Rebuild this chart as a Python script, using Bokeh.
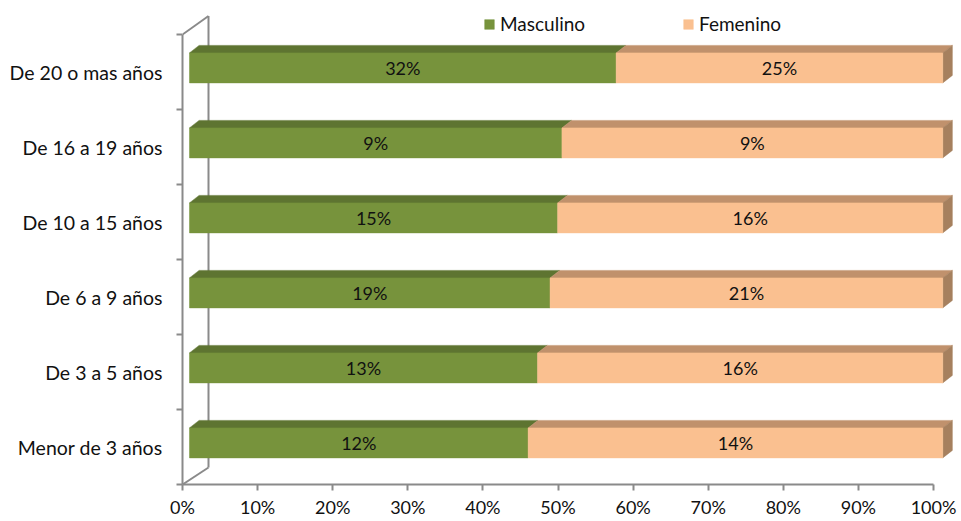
from bokeh.plotting import figure
from bokeh.models import Range1d, FixedTicker, Legend, LegendItem, ColumnDataSource
from bokeh.core.properties import value
from bokeh.embed import file_html
from bokeh.resources import INLINE

# ---------------- data ----------------
categories = ["Menor de 3 años", "De 3 a 5 años", "De 6 a 9 años",
              "De 10 a 15 años", "De 16 a 19 años", "De 20 o mas años"]
masculino = [11.6, 13.4, 19.1, 15.2, 8.9, 32.4]
femenino = [14.2, 15.6, 20.8, 15.9, 9.1, 24.8]
series_names = ["Masculino", "Femenino"]
x_ticks = [0, 10, 20, 30, 40, 50, 60, 70, 80, 90, 100]
x_tick_labels = ["0%", "10%", "20%", "30%", "40%", "50%", "60%", "70%", "80%", "90%", "100%"]

# ---------------- style ----------------
FONT = "Lato"
GREEN_FRONT, GREEN_TOP = "#77933C", "#5E7431"
TAN_FRONT, TAN_TOP, TAN_SIDE = "#FAC090", "#C0916C", "#A6805E"
AX = "#8a8a8a"
TXT = "#111111"

PX_X = 100 / 751.0      # x units per pixel
PX_Y = 1 / 75.0         # y units per pixel
DX0 = 7.0 * PX_X        # front face shift (3D depth)
KX = 1.003              # front face scale
DY0 = 0.055
BH = 30 * PX_Y          # bar thickness
TDX, TDY = 9.6 * PX_X, 7.5 * PX_Y
WDX, WDY = 26 * PX_X, 18.5 * PX_Y  # wall depth

n = len(categories)
pos = list(range(n))

p = figure(width=961, height=521,
           x_range=Range1d(0, 779 * PX_X), y_range=Range1d(-0.5, 5.5 + 34 * PX_Y),
           output_backend="svg", toolbar_location=None,
           min_border_left=182, min_border_right=0, min_border_top=0, min_border_bottom=37)
p.outline_line_color = None
p.xgrid.visible = False
p.ygrid.visible = False
p.background_fill_color = "white"
p.border_fill_color = "white"

# ---- walls ----
p.line([WDX, WDX], [-0.5 + 17 * PX_Y, 5.5 + WDY], line_color=AX, line_width=2)
p.line([0, WDX], [5.5, 5.5 + WDY], line_color=AX, line_width=2)
p.line([0, WDX], [-0.5, -0.5 + 17 * PX_Y], line_color=AX, line_width=2)

# ---- bars ----
m_left, m_right, f_left, f_right, ys = [], [], [], [], []
for i in pos:
    tot = masculino[i] + femenino[i]
    fm = masculino[i] / tot * 100
    m_left.append(DX0)
    m_right.append(DX0 + fm * KX)
    f_left.append(DX0 + fm * KX)
    f_right.append(DX0 + 100 * KX)
    ys.append(i + DY0)

src = ColumnDataSource(dict(y=ys, ml=m_left, mr=m_right, fl=f_left, fr=f_right,
                            mlab=[f"{round(v)}%" for v in masculino],
                            flab=[f"{round(v)}%" for v in femenino],
                            mx=[(a + b) / 2 for a, b in zip(m_left, m_right)],
                            fx=[(a + b) / 2 for a, b in zip(f_left, f_right)]))


def top_faces(lefts, rights):
    xs, yy = [], []
    for l, r, y in zip(lefts, rights, ys):
        t = y + BH / 2
        xs.append([l, l + TDX, r + TDX, r])
        yy.append([t, t + TDY, t + TDY, t])
    return xs, yy


xs, yy = top_faces(m_left, m_right)
p.patches(xs, yy, fill_color=GREEN_TOP, line_color=GREEN_TOP, line_width=0.5)
xs, yy = top_faces(f_left, f_right)
p.patches(xs, yy, fill_color=TAN_TOP, line_color=TAN_TOP, line_width=0.5)
sx, sy = [], []
for r, y in zip(f_right, ys):
    t, b = y + BH / 2, y - BH / 2
    sx.append([r, r + TDX, r + TDX, r])
    sy.append([t, t + TDY, b + TDY, b])
p.patches(sx, sy, fill_color=TAN_SIDE, line_color=TAN_SIDE, line_width=0.5)

rm = p.hbar(y="y", left="ml", right="mr", height=BH, source=src,
            fill_color=GREEN_FRONT, line_color=GREEN_FRONT, line_width=0.5)
rf = p.hbar(y="y", left="fl", right="fr", height=BH, source=src,
            fill_color=TAN_FRONT, line_color=TAN_FRONT, line_width=0.5)

p.text(x="mx", y="y", text="mlab", source=src, text_font=value(FONT),
       text_font_size="18px", text_align="center", text_baseline="middle", text_color=TXT)
p.text(x="fx", y="y", text="flab", source=src, text_font=value(FONT),
       text_font_size="18px", text_align="center", text_baseline="middle", text_color=TXT)

# ---- axes ----
xa = p.xaxis[0]
xa.ticker = FixedTicker(ticks=x_ticks)
xa.major_label_overrides = {t: l for t, l in zip(x_ticks, x_tick_labels)}
xa.bounds = (0, 100)
xa.axis_line_color = AX
xa.axis_line_width = 2
xa.major_tick_line_color = AX
xa.major_tick_line_width = 2
xa.major_tick_in = 0
xa.major_tick_out = 6
xa.minor_tick_line_color = None
xa.major_label_standoff = 5
xa.major_label_text_font = FONT
xa.major_label_text_font_size = "18px"
xa.major_label_text_color = TXT

ya = p.yaxis[0]
ya.ticker = FixedTicker(ticks=pos, minor_ticks=[i - 0.5 for i in range(n + 1)])
ya.major_label_overrides = {i: c for i, c in zip(pos, categories)}
ya.bounds = (-0.5, 5.5)
ya.axis_line_color = AX
ya.axis_line_width = 2
ya.major_tick_line_color = None
ya.major_tick_in = 0
ya.major_tick_out = 0
ya.minor_tick_line_color = AX
ya.minor_tick_line_width = 2
ya.minor_tick_in = 0
ya.minor_tick_out = 6
ya.major_label_standoff = 14
ya.major_label_text_font = FONT
ya.major_label_text_font_size = "19.5px"
ya.major_label_text_color = TXT

# ---- legends ----
for r, name, lx in ((rm, series_names[0], 301), (rf, series_names[1], 500)):
    lg = Legend(items=[LegendItem(label=name, renderers=[r])], location=(lx, 449),
                orientation="horizontal", glyph_width=12, glyph_height=12,
                label_standoff=5, label_height=20, padding=0, margin=0, spacing=0,
                border_line_alpha=0, background_fill_alpha=0,
                label_text_font=FONT, label_text_font_size="19px", label_text_color=TXT)
    p.add_layout(lg, "center")

open("out.html", "w").write(file_html(p, INLINE))
